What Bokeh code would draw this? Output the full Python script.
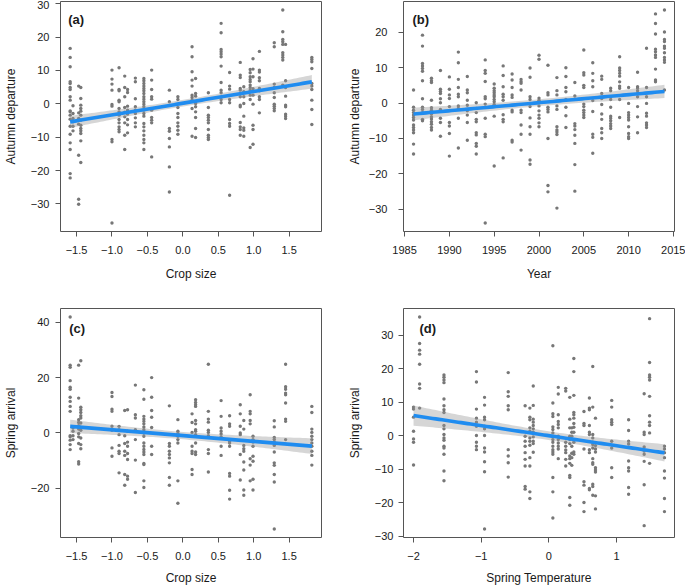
import numpy as np
from bokeh.plotting import figure
from bokeh.models import Range1d, FixedTicker, CustomJSTickFormatter, Label
from bokeh.layouts import row, column
from bokeh.embed import file_html
from bokeh.resources import INLINE

# ---------------- data ----------------
# (a) Autumn departure vs crop size
a_x = [-1.59, -1.55, -1.47, -1.44, -1.00, -0.90, -0.82, -0.78, -0.67, -0.55, -0.44, -0.19, -0.07,
       0.13, 0.18, 0.36, 0.54, 0.66, 0.81, 0.86, 0.95, 0.99, 1.08, 1.29, 1.41, 1.45, 1.82]
a_y = [
    [16.6, 13.9, 11.1, 6.6, 6.1, 4.9, 4.3, 2.1, 1.1, -2.1, -2.4, -3.4, -4.6, -6.7, -9.1, -11.7, -13.7, -20.9, -22.2],
    [-0.6, -2.9, -4.4, -5.4, -6.7, -8.1],
    [5.3, -2.7, -4.4, -4.9, -6.1, -15.4, -28.6, -30.1],
    [4.9, 1.6, -0.4, -1.4, -2.2, -3.4, -4.9, -6.4, -7.4, -8.1, -8.9, -11.1, -17.6],
    [10.1, 7.4, 5.9, 4.1, -0.2, -0.7, -10.7, -11.4, -35.7],
    [10.8, 4.3, 3.9, 1.1, 0.6, -1.4, -2.4, -3.4, -4.7, -5.7, -6.9, -7.7, -8.4],
    [8.3, 4.9, 2.1, -1.1, -2.5, -3.9, -5.7, -9.4, -13.7],
    [4.3, 3.4, -0.7, -1.9, -3.1, -4.7, -6.3, -8.7],
    [7.7, 6.6, 1.5, -0.9, -1.9, -2.9, -4.2, -5.7, -6.9],
    [7.6, 6.9, 6.1, 5.3, 4.6, 3.9, 3.1, 2.1, 1.4, 0.6, -0.1, -0.9, -1.9, -2.9, -3.7, -5.9, -6.9, -8.1, -9.4, -10.7, -11.7, -13.7],
    [10.1, 7.1, 4.3, 2.1, 1.4, -1.9, -4.1, -4.9, -5.7, -15.9],
    [4.1, 0.6, -7.4, -8.2, -10.4, -12.9, -18.9, -26.4],
    [2.1, 1.3, -1.1, -2.9, -4.1, -5.7, -6.7, -7.9, -9.1],
    [17.1, 14.1, 9.6, 7.1, 5.3, 2.6, 1.9, 1.1, -1.4, -9.7],
    [7.6, 3.1, 2.3, 0.1, -0.9, -2.4, -4.1, -7.4, -10.1],
    [3.3, -1.1, -3.4, -4.1, -4.9, -5.7, -7.7, -9.4, -10.1, -10.7],
    [24.1, 21.3, 16.3, 15.6, 14.9, 14.1, 11.3, 6.4, 4.1, 3.3, 1.3, 0.3],
    [9.4, 5.3, 4.4, 1.3, 0.3, -4.7, -5.9, -6.7, -27.4],
    [12.4, 8.6, 7.9, 4.6, 4.1, 2.1, -0.4, -0.9, -5.6, -6.9, -7.7, -9.4],
    [5.1, 3.6, 2.1, 0.1, -3.7, -7.2, -7.9, -9.7],
    [10.3, 9.3, 8.1, 7.3, 6.6, 5.6, 4.9, 4.1, 2.6, 1.3, -13.1],
    [13.5, 10.4, 8.1, 4.5, 2.6, -0.1, -6.4, -7.7, -12.1],
    [15.7, 10.1, 9.5, 7.8, 6.9, 4.6, 3.9, 2.1, 1.3, -2.7],
    [18.3, 17.1, 5.9, 4.9, 3.3, 1.9, -0.1, -0.7, -1.4, -2.1],
    [28.1, 21.6, 19.3, 18.6, 17.8, 15.3, 14.6, 13.9, 13.1, 5.6],
    [17.8, 6.9, 4.9, 2.3, -0.4, -0.9, -3.1, -3.7, -4.4],
    [13.9, 13.3, 12.6, 10.6, 6.1, 5.3, 4.3, 1.1, -1.7, -6.2],
]

# (b) Autumn departure vs year
b_x = list(range(1986, 2015))
b_y = [
    [3.7, -1.2, -2.0, -2.7, -3.4, -4.1, -4.8, -6.2, -6.9, -7.6, -8.4, -11.6, -14.4],
    [19.2, 16.1, 11.2, 10.5, 9.8, 9.0, 6.3, 1.2, -1.2, -1.8, -2.7, -4.6, -5.0],
    [7.0, 6.3, 5.8, 0.8, -1.3, -2.0, -2.5, -3.1, -3.9, -4.5, -5.3, -6.0, -6.9, -7.6],
    [9.2, 3.9, 3.3, 2.7, 1.2, 0.1, -1.8, -4.3, -5.5, -9.4],
    [7.4, 3.9, 2.3, 1.3, -1.0, -5.5, -6.5, -8.6, -15.0],
    [14.4, 11.4, 6.7, 4.4, 2.5, 1.8, -0.8, -1.5, -4.3, -12.7],
    [7.5, 3.7, 2.9, 0.8, -0.6, -2.2, -3.4, -5.5, -10.5],
    [0.1, -1.5, -2.7, -4.6, -5.3, -8.4, -9.0, -11.4, -12.2, -14.4],
    [12.2, 9.2, 8.4, 6.1, 1.8, 1.2, -0.3, -4.3, -8.8, -9.5, -33.9],
    [5.4, 4.2, 3.5, 2.9, 2.3, 1.8, 1.0, 0.4, -0.4, -3.7, -17.8],
    [10.5, 7.8, 4.6, 2.5, 1.8, 0.8, -3.3, -4.6, -5.3, -15.5],
    [8.2, 6.5, 4.4, 2.3, 1.6, -2.0, -2.5, -10.5, -11.0],
    [6.7, 6.1, 5.6, 3.7, -2.0, -2.7, -6.2, -8.8, -13.3],
    [9.9, 7.3, 1.8, 1.0, -0.1, -1.0, -4.2, -6.7, -8.8, -16.1, -17.3],
    [13.5, 12.4, 1.4, 0.8, -0.8, -2.2, -3.4, -4.3, -5.6, -6.7],
    [10.7, 2.9, 2.3, -1.2, -1.8, -2.5, -10.0, -23.3, -25.1],
    [7.2, 3.5, 2.3, -0.8, -1.8, -6.7, -7.6, -8.2, -8.9, -29.7],
    [10.0, 7.5, 4.4, 3.2, 1.0, -1.2, -3.6, -6.9],
    [5.8, 2.0, -5.8, -6.5, -7.5, -9.1, -11.4, -17.4, -24.9],
    [15.0, 8.6, 7.9, 5.0, 4.4, -0.3, -1.0, -2.0, -2.7, -3.4, -4.1],
    [11.4, 8.4, 6.3, 4.6, 0.7, -2.4, -8.8, -9.7, -14.2],
    [7.6, 6.7, 2.7, 1.3, -0.4, -3.1, -4.6, -7.2, -8.4, -10.0],
    [4.2, 3.5, 1.8, 1.0, -1.2, -3.7, -4.3, -5.0, -5.8, -6.5, -7.2],
    [13.1, 9.9, 9.2, 8.4, 7.6, 6.0, 4.8, 4.2, 1.0, -4.1],
    [4.4, -0.1, -2.7, -3.4, -4.1, -4.8, -6.7, -8.6, -9.5, -10.0],
    [8.7, 4.6, 4.2, 3.5, 2.7, 1.8, -1.0, -3.9, -8.4],
    [15.5, 4.4, 1.8, -0.1, -2.9, -3.7, -5.6, -6.2, -6.9],
    [25.2, 22.5, 19.5, 15.2, 14.5, 13.6, 12.9, 9.6, 6.5, 6.0],
    [26.3, 20.1, 18.0, 17.4, 16.1, 15.5, 14.2, 12.9, 12.2, 11.5, 3.7],
]

# (c) Spring arrival vs crop size
c_x = [-1.59, -1.55, -1.47, -1.44, -1.00, -0.90, -0.82, -0.78, -0.67, -0.55, -0.44, -0.19, -0.07,
       0.13, 0.18, 0.36, 0.54, 0.66, 0.81, 0.86, 0.95, 0.99, 1.29, 1.45, 1.82]
c_y = [
    [41.9, 24.5, 23.7, 18.9, 16.5, 15.8, 12.9, 11.4, 9.6, 7.8, -1.0, -1.4, -2.6, -4.2, -6.0],
    [1.8, 0.6, -1.0, -2.4],
    [24.5, 12.6, 4.8, 3.8, 2.6, 1.4, -0.2, -1.4, -3.8, -10.4, -11.2],
    [26.1, 9.3, 8.4, 7.4, 6.2, 5.4, 3.6, 2.0, 1.0, -1.8, -4.2, -5.7],
    [14.6, 13.2, 8.6, 7.8, 2.4, 1.0, -5.4, -8.4],
    [2.4, 1.2, -0.6, -4.5, -6.6, -7.4, -14.4],
    [8.1, -1.0, -3.8, -6.6, -8.1, -15.0, -18.9],
    [8.4, 0.6, -3.3, -4.8, -7.4, -9.6, -15.6, -16.7],
    [17.3, 6.6, 5.4, 1.2, -2.4, -9.8, -21.5],
    [15.6, 12.2, 6.0, 5.0, 4.2, 3.3, 2.2, 1.2, 0.0, -1.2, -3.6, -4.8, -6.0, -6.9, -7.8, -11.0, -11.4, -17.3, -19.7],
    [20.0, 12.9, 8.1, 5.7, 2.0, -4.8, -7.8],
    [9.8, -3.8, -4.8, -6.6, -7.8, -9.0, -10.8, -16.1, -18.9],
    [4.8, 0.6, -0.2, -1.2, -2.4, -3.6, -17.3, -25.4],
    [6.9, 3.8, 0.2, -4.8, -6.6, -7.4, -13.2, -15.0],
    [12.0, 11.0, 10.2, 9.6, 4.5, 3.3, 1.2, 0.6, -0.6, -3.6, -6.9, -7.8],
    [24.8, 7.8, 5.0, 3.9, 1.0, 0.2, -1.0, -6.0, -7.4, -14.1],
    [11.7, 6.0, 1.8, 0.6, -0.4, -1.4, -4.8, -8.1],
    [6.2, 3.3, 2.4, -3.0, -3.6, -4.8, -14.6, -15.6, -20.7, -23.9],
    [10.2, 6.9, 2.4, 0.0, -0.6, -7.8, -17.0],
    [4.5, 1.4, -4.5, -5.7, -6.6, -10.5, -13.4, -20.6, -22.5],
    [13.8, 7.8, 6.9, 4.5, 3.3, -9.3, -11.6, -17.3],
    [-1.2, -2.4, -3.3, -4.8, -8.4, -10.2, -16.7, -20.6],
    [4.4, 2.2, -1.6, -2.4, -3.3, -4.5, -6.9, -10.8, -11.7, -15.0, -17.7, -34.7],
    [24.8, 16.7, 15.8, 14.4, 13.8, 10.8, 5.0, 4.2, -2.4],
    [9.6, 7.4, 1.4, 0.2, -1.2, -2.4, -3.6, -4.8, -6.6, -8.1, -11.6],
]

# (d) Spring arrival vs spring temperature
d_x = [-2.00, -1.91, -1.55, -1.07, -0.95, -0.60, -0.35, -0.28, -0.23, 0.06, 0.14, 0.25, 0.31, 0.34,
       0.37, 0.52, 0.60, 0.65, 0.69, 0.93, 1.18, 1.41, 1.49, 1.71]
d_y = [
    [8.5, 7.9, 5.5, 1.3, -1.0, -2.0, -8.8],
    [35.4, 27.5, 25.5, 24.3, 21.3, 15.4, 14.1, 8.2],
    [18.1, 17.4, 16.6, 15.8, 10.9, 8.9, 7.7, 6.9, 3.0, 2.0, 0.3, -0.7, -1.4, -3.2, -3.7, -5.6, -10.6, -13.5],
    [19.1, 16.0, 7.9, 5.2, 4.0, 2.8, 0.0, -2.0, -3.2, -4.2],
    [11.4, 9.1, 5.5, 4.7, 2.8, 2.0, 0.0, -3.7, -4.9, -7.8, -10.8, -27.9],
    [18.8, 13.1, 11.7, 8.9, 7.7, -4.2, -6.1, -8.1, -12.4],
    [8.9, -0.2, -1.7, -3.2, -5.1, -7.1, -9.1, -15.2, -16.0],
    [8.2, 5.5, 4.7, 2.3, 1.3, -0.7, -1.7, -2.9, -6.6, -9.1, -16.8, -18.8],
    [14.8, 9.0, 4.9, 4.0, 3.0, 2.0, 1.0, -0.4, -1.7, -2.4, -5.0],
    [26.8, 9.7, 6.5, 5.7, 2.6, 1.8, 0.8, -0.4, -1.2, -2.0, -3.2, -4.2, -4.9, -5.6, -12.5, -16.8, -24.6],
    [14.4, 12.4, 6.2, 4.2, 3.3, 2.3, -0.2, -1.2, -2.2, -3.2, -4.0, -6.9],
    [14.1, 13.3, -2.0, -3.2, -4.3, -5.1, -7.1, -9.1],
    [11.4, 4.9, 2.3, -0.2, -1.2, -2.4, -6.1, -6.9, -8.3, -11.9, -12.5, -18.5, -20.8],
    [2.3, 1.0, -0.2, -3.2, -5.3, -6.6, -8.9],
    [23.0, 19.1, 12.0, 6.9, 6.2, 5.2, 3.6, 2.5, 1.0, -2.0, -4.9, -5.6],
    [7.2, 3.6, 3.0, -4.0, -13.8, -14.8, -20.0, -22.7],
    [11.2, 8.2, 7.7, 3.0, 1.0, 0.3, -4.2, -5.1, -15.8, -16.2],
    [20.6, 8.5, 0.3, -0.7, -2.0, -2.7, -3.7, -6.9, -8.1, -8.6, -14.5, -15.2, -17.8],
    [5.2, -3.0, -4.0, -4.9, -9.6, -10.3, -10.9, -18.0, -21.9],
    [10.5, 8.5, 4.7, 4.0, 3.3, -1.7, -3.7, -9.6, -12.5],
    [4.7, 1.5, -1.7, -2.5, -7.6, -9.6, -10.6, -15.5, -17.5],
    [12.5, 1.0, 0.3, -3.4, -4.6, -5.6, -7.7, -14.7, -26.9],
    [34.9, 21.8, 18.1, 17.4, 16.6, 11.7, 5.9, 4.0, 3.0, 0.8, -8.3],
    [-3.2, -4.0, -5.1, -6.6, -10.6, -12.7, -18.8, -22.7],
]

crop_ticks = [-1.5, -1.0, -0.5, 0.0, 0.5, 1.0, 1.5]
year_ticks = [1985, 1990, 1995, 2000, 2005, 2010, 2015]
temp_ticks = [-2, -1, 0, 1]
a_yticks = [-30, -20, -10, 0, 10, 20, 30]
b_yticks = [-30, -20, -10, 0, 10, 20]
c_yticks = [-20, 0, 20, 40]
d_yticks = [-30, -20, -10, 0, 10, 20, 30]

# ---------------- style ----------------
FONT = "Liberation Sans"
PT_COLOR = "#777777"
LINE_COLOR = "#1f8cf0"
BOX_COLOR = "#555555"
TXT = "#1a1a1a"

FMT1 = CustomJSTickFormatter(code="return tick.toFixed(1).replace('-', '\u2212');")
FMT0 = CustomJSTickFormatter(code="return tick.toFixed(0).replace('-', '\u2212');")
FMTY = CustomJSTickFormatter(code="return tick.toFixed(0);")


def expand(xc, yc):
    xs, ys = [], []
    for x, col in zip(xc, yc):
        for y in col:
            xs.append(x)
            ys.append(y)
    return np.array(xs, float), np.array(ys, float)


def r_range(v):
    lo, hi = float(np.min(v)), float(np.max(v))
    d = 0.04 * (hi - lo)
    return lo - d, hi + d


def panel(xc, yc, xticks, yticks, xfmt, xlabel, ylabel, tag,
          width, height, bl, br, bt, bb, ylab_standoff, ylab_title_standoff, xlab_title_standoff,
          tag_dx, tag_dy):
    xs, ys = expand(xc, yc)
    x0, x1 = r_range(xs)
    y0, y1 = r_range(ys)
    fw = width - bl - br
    fh = height - bt - bb
    p = figure(width=width, height=height,
               x_range=Range1d(x0, x1), y_range=Range1d(y0, y1),
               output_backend="svg", toolbar_location=None,
               min_border_left=bl, min_border_right=br, min_border_top=bt, min_border_bottom=bb)
    p.grid.visible = False
    p.background_fill_color = "white"
    p.border_fill_color = "white"
    p.outline_line_color = BOX_COLOR
    p.outline_line_width = 1

    p.xaxis.ticker = FixedTicker(ticks=xticks)
    p.yaxis.ticker = FixedTicker(ticks=yticks)
    p.xaxis.formatter = xfmt
    p.yaxis.formatter = FMT0
    for ax in (p.xaxis, p.yaxis):
        ax.axis_line_color = None
        ax.major_tick_line_color = BOX_COLOR
        ax.major_tick_in = 0
        ax.major_tick_out = 5
        ax.minor_tick_line_color = None
        ax.major_label_text_font = FONT
        ax.major_label_text_font_size = "11px"
        ax.major_label_text_color = TXT
        ax.axis_label_text_font = FONT
        ax.axis_label_text_font_size = "12px"
        ax.axis_label_text_font_style = "normal"
        ax.axis_label_text_color = TXT
    p.xaxis.major_label_standoff = 9
    p.xaxis.axis_label_standoff = xlab_title_standoff
    p.yaxis.major_label_standoff = ylab_standoff
    p.yaxis.axis_label_standoff = ylab_title_standoff
    p.yaxis.major_label_orientation = "horizontal"
    p.xaxis.axis_label = xlabel
    p.yaxis.axis_label = ylabel

    p.scatter(xs, ys, size=3.4, marker="circle", fill_color=PT_COLOR, line_color=None)

    # least-squares fit with 95% confidence band
    n = len(xs)
    slope, icpt = np.polyfit(xs, ys, 1)
    resid = ys - (slope * xs + icpt)
    s = np.sqrt(np.sum(resid ** 2) / (n - 2))
    xbar = xs.mean()
    sxx = np.sum((xs - xbar) ** 2)
    xf = np.linspace(xs.min(), xs.max(), 80)
    yf = slope * xf + icpt
    se = s * np.sqrt(1.0 / n + (xf - xbar) ** 2 / sxx)
    t = 1.97
    p.varea(x=xf, y1=yf - t * se, y2=yf + t * se, fill_color="#999999", fill_alpha=0.4)
    p.line(xf, yf, line_width=3.6, line_color=LINE_COLOR)

    lx = x0 + (x1 - x0) * tag_dx / fw
    ly = y1 - (y1 - y0) * tag_dy / fh
    p.add_layout(Label(x=lx, y=ly, text=tag, text_font=FONT, text_font_size="13px",
                       text_font_style="bold", text_color=TXT, text_baseline="top", text_align="left"))
    return p


pa = panel(a_x, a_y, crop_ticks, a_yticks, FMT1, "Crop size", "Autumn departure", "(a)",
           342, 290, 51, 21, 1, 59, 6, 10, 10, 8, 10)
pb = panel(b_x, b_y, year_ticks, b_yticks, FMTY, "Year", "Autumn departure", "(b)",
           343, 290, 61, 11, 1, 59, 11, 4, 10, 9, 10)
pc = panel(c_x, c_y, crop_ticks, c_yticks, FMT1, "Crop size", "Spring arrival", "(c)",
           342, 297, 51, 21, 18, 49, 6, 10, 8, 9, 13)
pd_ = panel(d_x, d_y, temp_ticks, d_yticks, FMT0, "Spring Temperature", "Spring arrival", "(d)",
            343, 297, 61, 11, 18, 49, 5, 10, 8, 16, 13)

layout = column(row(pa, pb, spacing=0), row(pc, pd_, spacing=0), spacing=0)

open("out.html", "w").write(file_html(layout, INLINE))
